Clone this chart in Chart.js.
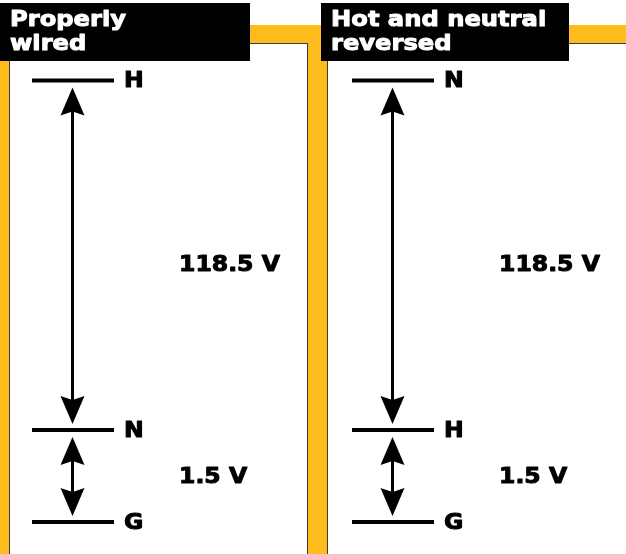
<!DOCTYPE html>
<html>
<head>
<meta charset="utf-8">
<script src="https://cdn.jsdelivr.net/npm/chart.js@4"></script>
<style>
  html, body { margin: 0; padding: 0; background: #fff; }
  #wrap { width: 626px; height: 554px; }
</style>
</head>
<body>
<div id="wrap"><canvas id="c" width="626" height="554"></canvas></div>
<script>
// ---- data ----
const panelTitles = [["Properly", "wired"], ["Hot and neutral", "reversed"]];
const conductorLabels = [["H", "N", "G"], ["N", "H", "G"]];
const levelHeights = [4.8, 1, 0];            // schematic (not to scale) heights of the conductors
const voltageLabels = ["118.5 V", "1.5 V"];   // voltage between successive conductors
const voltageLabelHeights = [2.79, 0.49];

// ---- layout ----
const PANEL_X = [0, 320];
const LINE_X0 = 32, LINE_X1 = 114, ARROW_X = 72.5, LETTER_X = 124, VOLT_X = 179;
const YELLOW = "#FDBB1D", BORDER = "#3a3a3a";
const FONT = "bold 22px 'DejaVu Sans'";
const STRETCH = 1.07;
const EMBOLDEN = 1.0;

const datasets = [];
PANEL_X.forEach((px, p) => {
  levelHeights.forEach((h, i) => {
    datasets.push({
      label: conductorLabels[p][i],
      data: [{x: px + LINE_X0, y: h}, {x: px + LINE_X1, y: h}],
      showLine: true, borderColor: "#000", borderWidth: 4,
      pointRadius: 0, borderCapStyle: "butt"
    });
  });
});

function stretchText(ctx, text, x, y, sx) {
  ctx.save();
  ctx.translate(x, y);
  ctx.scale(sx, 1);
  ctx.lineJoin = "round";
  ctx.lineWidth = EMBOLDEN;
  ctx.strokeStyle = ctx.fillStyle;
  ctx.fillText(text, 0, 0);
  ctx.strokeText(text, 0, 0);
  ctx.restore();
}

function arrowHead(ctx, x, tipY, dir) {
  const L = 28, N = 24, W = 12;
  ctx.beginPath();
  ctx.moveTo(x, tipY);
  ctx.lineTo(x + W, tipY + dir * L);
  ctx.lineTo(x, tipY + dir * N);
  ctx.lineTo(x - W, tipY + dir * L);
  ctx.closePath();
  ctx.fill();
}

const framePlugin = {
  id: "frame",
  beforeDraw(chart) {
    const ctx = chart.ctx;
    const W = chart.width, H = chart.height;
    ctx.save();
    ctx.fillStyle = "#fff";
    ctx.fillRect(0, 0, W, H);
    // yellow frame
    ctx.fillStyle = YELLOW;
    ctx.fillRect(0, 25, W, H - 25);
    // white panels
    const inner = [[9, 43, 299, H], [327, 43, W + 10 - 327, H]];
    inner.forEach(r => {
      ctx.fillStyle = "#fff";
      ctx.fillRect(r[0], r[1], r[2], r[3]);
      ctx.strokeStyle = BORDER;
      ctx.lineWidth = 1;
      ctx.strokeRect(r[0] + 0.5, r[1] + 0.5, r[2] - 1, r[3] + 10);
    });
    // title boxes
    const boxes = [[0, 3, 250, 58], [321, 3, 248, 58]];
    ctx.fillStyle = "#000";
    boxes.forEach(b => ctx.fillRect(b[0], b[1], b[2], b[3]));
    ctx.fillStyle = "#fff";
    ctx.font = FONT;
    ctx.textBaseline = "alphabetic";
    ctx.textAlign = "left";
    panelTitles.forEach((lines, p) => {
      const tx = boxes[p][0] + 10;
      lines.forEach((t, k) => stretchText(ctx, t, tx, 26 + k * 24, 1.1));
    });
    ctx.restore();
  },
  afterDatasetsDraw(chart) {
    const ctx = chart.ctx;
    const xs = chart.scales.x, ys = chart.scales.y;
    ctx.save();
    ctx.fillStyle = "#000";
    ctx.strokeStyle = "#000";
    PANEL_X.forEach((px, p) => {
      const ax = xs.getPixelForValue(px + ARROW_X);
      // conductor letters
      ctx.font = FONT;
      ctx.textBaseline = "middle";
      ctx.textAlign = "left";
      levelHeights.forEach((h, i) => {
        stretchText(ctx, conductorLabels[p][i], xs.getPixelForValue(px + LETTER_X), ys.getPixelForValue(h) + 1, STRETCH);
      });
      // arrows + voltage labels
      voltageLabels.forEach((lab, i) => {
        const top = ys.getPixelForValue(levelHeights[i]) + 7;
        const bot = ys.getPixelForValue(levelHeights[i + 1]) - 6;
        ctx.lineWidth = 3;
        ctx.strokeStyle = "#000";
        ctx.beginPath();
        ctx.moveTo(ax, top + 18);
        ctx.lineTo(ax, bot - 18);
        ctx.stroke();
        arrowHead(ctx, ax, top, 1);
        arrowHead(ctx, ax, bot, -1);
        stretchText(ctx, lab, xs.getPixelForValue(px + VOLT_X), ys.getPixelForValue(voltageLabelHeights[i]), STRETCH);
      });
    });
    ctx.restore();
  }
};

new Chart(document.getElementById("c"), {
  type: "scatter",
  data: { datasets },
  options: {
    responsive: false,
    animation: false,
    events: [],
    devicePixelRatio: 1,
    layout: { padding: 0 },
    plugins: { legend: { display: false }, tooltip: { enabled: false } },
    scales: {
      x: { type: "linear", min: 0, max: 626, display: false },
      y: { type: "linear", min: -0.348, max: 5.674, display: false }
    }
  },
  plugins: [framePlugin]
});
</script>
</body>
</html>
